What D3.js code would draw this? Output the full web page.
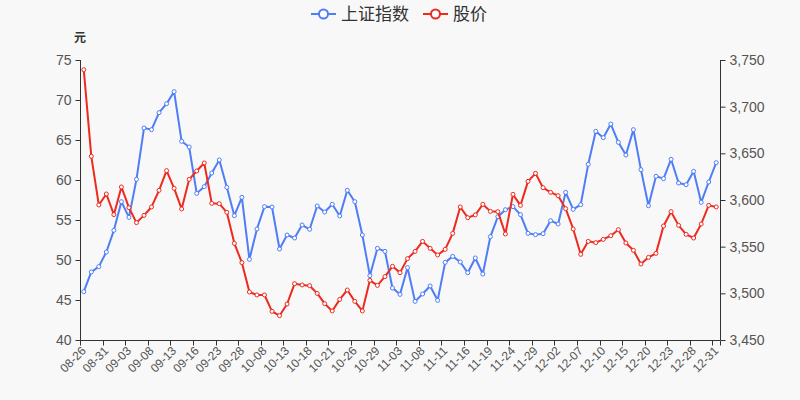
<!DOCTYPE html>
<html><head><meta charset="utf-8">
<script src="https://cdn.jsdelivr.net/npm/d3@7"></script>
<style>
html,body{margin:0;padding:0;background:#f8f8f8;}
svg{display:block;font-family:"Liberation Sans",Arial,"Noto Sans CJK SC",sans-serif;}
</style></head>
<body><svg id="c" width="800" height="400"></svg>
<script>
const dates = ["08-26","08-27","08-30","08-31",
"09-01","09-02","09-03","09-06","09-07","09-08","09-09","09-10","09-13","09-14","09-15","09-16","09-17","09-22","09-23","09-24","09-27","09-28","09-29","09-30",
"10-08","10-11","10-12","10-13","10-14","10-15","10-18","10-19","10-20","10-21","10-22","10-25","10-26","10-27","10-28","10-29",
"11-01","11-02","11-03","11-04","11-05","11-08","11-09","11-10","11-11","11-12","11-15","11-16","11-17","11-18","11-19","11-22","11-23","11-24","11-25","11-26","11-29","11-30",
"12-01","12-02","12-03","12-06","12-07","12-08","12-09","12-10","12-13","12-14","12-15","12-16","12-17","12-20","12-21","12-22","12-23","12-24","12-27","12-28","12-29","12-30","12-31"];

const indexValues = [3501.8,3522.9,3528.6,3544.3,3567.5,3598.2,3581.4,3622.1,3677.1,3675.4,
3693.6,3703.2,3716.1,3662.9,3656.8,3607.1,3614.3,3628.9,3642.9,3613.6,
3583.2,3602.9,3536.4,3568.9,3592.9,3592.5,3547.5,3562.5,3559.3,3573.2,
3568.6,3593.6,3587.1,3595.4,3582.9,3610.4,3598.2,3562.5,3518.9,3548.2,
3545.0,3505.7,3498.9,3527.5,3491.4,3499.3,3507.9,3492.5,3533.2,3539.6,
3533.6,3522.1,3537.9,3520.7,3560.7,3582.1,3589.6,3592.9,3584.3,3564.3,
3562.9,3563.9,3577.9,3574.3,3608.2,3590.0,3595.0,3638.2,3673.6,3666.8,
3681.4,3661.8,3648.2,3675.4,3632.5,3593.9,3625.4,3622.9,3643.6,3618.2,
3616.4,3630.7,3597.5,3619.3,3640.0];

const priceValues = [73.79,62.96,56.88,58.25,55.67,59.13,56.54,54.67,55.58,56.63,
58.71,61.17,58.96,56.38,60.08,61.13,62.13,57.08,57.04,55.96,
52.08,49.67,46.00,45.63,45.63,43.58,43.04,44.50,47.04,46.88,
46.79,45.83,44.54,43.63,45.08,46.25,44.83,43.63,47.46,46.83,
47.92,49.21,48.42,50.17,51.08,52.33,51.46,50.63,51.33,53.33,
56.63,55.29,55.63,56.96,56.08,56.04,53.25,58.21,56.83,59.83,
60.83,59.04,58.46,58.04,56.42,53.88,50.71,52.33,52.17,52.58,
53.04,53.79,52.13,51.21,49.50,50.33,50.83,54.25,56.04,54.33,
53.21,52.75,54.50,56.83,56.63];

const leftTicks = [40,45,50,55,60,65,70,75];
const rightTicks = [3450,3500,3550,3600,3650,3700,3750];
const seriesNames = ["上证指数","股价"];
const colors = ["#4f7df7","#ee2a1e"];

const svg = d3.select("#c");
const W=800,H=400, m={l:80,r:80,t:60,b:60};
svg.append("rect").attr("width",W).attr("height",H).attr("fill","#f8f8f8");

const x = d3.scaleBand().domain(dates).range([m.l, W-m.r]).padding(0);
const yL = d3.scaleLinear().domain([40,75]).range([H-m.b, m.t]);
const yR = d3.scaleLinear().domain([3450,3750]).range([H-m.b, m.t]);
const cx = d => x(d) + x.bandwidth()/2;

const axisColor="#333", textColor="#555";

const gL = svg.append("g").attr("transform",`translate(${m.l+0.5},0)`)
  .call(d3.axisLeft(yL).tickValues(leftTicks).tickSize(5).tickPadding(4).tickFormat(d3.format("d")));
const gR = svg.append("g").attr("transform",`translate(${W-m.r+0.5},0)`)
  .call(d3.axisRight(yR).tickValues(rightTicks).tickSize(5).tickPadding(4).tickFormat(d3.format(",")));
[gL,gR].forEach(g=>{
  g.select(".domain").attr("stroke",axisColor).attr("d",`M0,${m.t}V${H-m.b}`);
  g.selectAll(".tick line").attr("stroke",axisColor);
  g.selectAll("text").attr("fill",textColor).style("font-size","14px");
});

// x axis
const labelDates = dates.filter((d,i)=>i%3===0);
const gX = svg.append("g").attr("transform",`translate(0,${H-m.b+0.5})`);
gX.append("path").attr("d",`M${m.l},0H${W-m.r}`).attr("stroke",axisColor).attr("fill","none");
gX.selectAll("line.tk").data(labelDates).enter().append("line")
  .attr("x1",d=>Math.round(x(d))+0.5).attr("x2",d=>Math.round(x(d))+0.5)
  .attr("y1",0).attr("y2",5).attr("stroke",axisColor);
gX.append("line").attr("x1",W-m.r+0.5).attr("x2",W-m.r+0.5).attr("y1",0).attr("y2",5).attr("stroke",axisColor);
gX.selectAll("text").data(labelDates).enter().append("text")
  .attr("transform",d=>`translate(${cx(d)},${8}) rotate(-45)`)
  .attr("text-anchor","end").attr("dy","0.35em")
  .attr("fill",textColor).style("font-size","12px").text(d=>d);

svg.append("text").attr("x",m.l).attr("y",42).attr("text-anchor","middle")
  .attr("fill","#333").style("font-size","12px").style("font-weight","bold")
  .style("font-family","'Noto Sans CJK SC',sans-serif").text("元");

const series = [
  {vals:indexValues, y:yR, color:colors[0]},
  {vals:priceValues, y:yL, color:colors[1]}
];
series.forEach(s=>{
  const line = d3.line().x((v,i)=>cx(dates[i])).y(v=>s.y(v));
  svg.append("path").datum(s.vals).attr("d",line).attr("fill","none")
    .attr("stroke",s.color).attr("stroke-width",2).attr("stroke-linejoin","round");
  svg.append("g").selectAll("circle").data(s.vals).enter().append("circle")
    .attr("cx",(v,i)=>cx(dates[i])).attr("cy",v=>s.y(v)).attr("r",2)
    .attr("fill","#fff").attr("stroke",s.color).attr("stroke-width",1);
});

const lg = svg.append("g").style("font-family","'Noto Sans CJK SC',sans-serif");
const items = [{name:seriesNames[0],color:colors[0],x:311},{name:seriesNames[1],color:colors[1],x:423}];
items.forEach(it=>{
  const g = lg.append("g").attr("transform",`translate(${it.x},14)`);
  g.append("line").attr("x1",0).attr("x2",25).attr("y1",0).attr("y2",0).attr("stroke",it.color).attr("stroke-width",2);
  g.append("circle").attr("cx",12.5).attr("cy",0).attr("r",4.5).attr("fill","#fff").attr("stroke",it.color).attr("stroke-width",2);
  g.append("text").attr("x",30).attr("y",0).attr("dy","0.35em").attr("fill","#333")
    .style("font-size","17px").text(it.name);
});
</script></body></html>
